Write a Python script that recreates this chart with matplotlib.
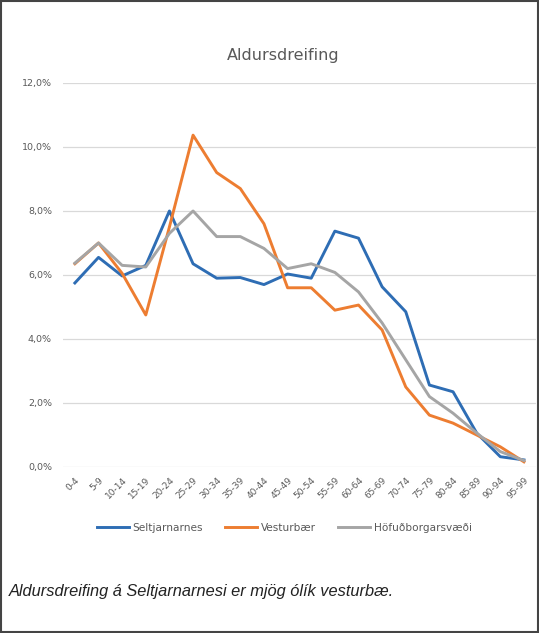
import matplotlib
matplotlib.use("Agg")
import matplotlib.pyplot as plt
from matplotlib.patches import Rectangle
from matplotlib.lines import Line2D

# aldursflokkar
aldur = ['0-4', '5-9', '10-14', '15-19', '20-24', '25-29', '30-34', '35-39',
         '40-44', '45-49', '50-54', '55-59', '60-64', '65-69', '70-74',
         '75-79', '80-84', '85-89', '90-94', '95-99']

# hlutfall íbúa (%)
seltjarnarnes = [5.75, 6.55, 5.97, 6.3, 8.0, 6.35, 5.9, 5.92, 5.7, 6.03,
                 5.9, 7.37, 7.15, 5.63, 4.85, 2.56, 2.35, 1.06, 0.32, 0.22]
vesturbaer = [6.35, 7.0, 6.05, 4.75, 7.5, 10.37, 9.2, 8.7, 7.6, 5.6,
              5.6, 4.9, 5.06, 4.28, 2.5, 1.62, 1.37, 1.0, 0.63, 0.16]
hofudborg = [6.37, 7.0, 6.3, 6.25, 7.3, 8.0, 7.2, 7.2, 6.83, 6.2,
             6.35, 6.08, 5.47, 4.5, 3.35, 2.2, 1.68, 1.06, 0.48, 0.2]

y_ticks = [0, 2, 4, 6, 8, 10, 12]

blar = '#2E6DB4'
appelsinugulur = '#ED7D31'
grar = '#A5A5A5'
texti = '#595959'

fig = plt.figure(figsize=(5.39, 6.33), dpi=100)
ax = fig.add_axes([0.117, 0.2623, 0.877, 0.6066])

x = list(range(len(aldur)))
ax.plot(x, seltjarnarnes, color=blar, lw=2.1, label='Seltjarnarnes')
ax.plot(x, vesturbaer, color=appelsinugulur, lw=2.1, label='Vesturbær')
ax.plot(x, hofudborg, color=grar, lw=2.1, label='Höfuðborgarsvæði')

ax.set_xlim(-0.5, len(aldur) - 0.5)
ax.set_ylim(0, 12)
ax.set_yticks(y_ticks)
ax.set_yticklabels([f'{v:.1f}%'.replace('.', ',') for v in y_ticks],
                   fontsize=6.8, color=texti)
ax.set_xticks(x)
ax.set_xticklabels(aldur, rotation=45, ha='right', rotation_mode='anchor',
                   fontsize=6.5, color=texti)
ax.tick_params(axis='y', length=0, pad=8)
ax.tick_params(axis='x', length=0, pad=6)
ax.grid(axis='y', color='#D9D9D9', lw=0.9)
ax.set_axisbelow(True)
for s in ax.spines.values():
    s.set_visible(False)

fig.text(0.525, 0.912, 'Aldursdreifing', ha='center', va='center',
         fontsize=11.5, color=texti)

handles = [Line2D([], [], color=c, lw=2.1) for c in (blar, appelsinugulur, grar)]
fig.legend(handles, ['Seltjarnarnes', 'Vesturbær', 'Höfuðborgarsvæði'],
           loc='center', bbox_to_anchor=(0.528, 0.166), ncol=3, frameon=False,
           fontsize=7.6, labelcolor=texti, handlelength=3.0, columnspacing=2.1,
           handletextpad=0.4)

fig.text(0.017, 0.066, 'Aldursdreifing á Seltjarnarnesi er mjög ólík vesturbæ.',
         ha='left', va='center', fontsize=11.8, style='italic', color='#222222',
         family='Liberation Sans')

fig.patches.append(Rectangle((0.002, 0.002), 0.996, 0.996, transform=fig.transFigure,
                             fill=False, edgecolor='#444444', lw=1.5))

fig.savefig('out.png', dpi=100)
